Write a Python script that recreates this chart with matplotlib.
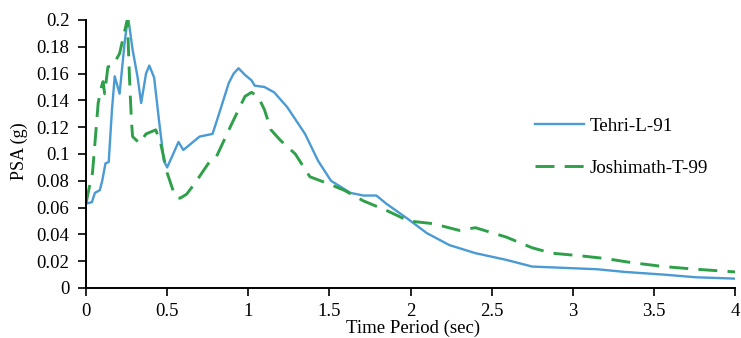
import matplotlib.pyplot as plt
import numpy as np

# Tehri-L-91
tehri_t = [0, 0.036, 0.055, 0.085, 0.10, 0.12, 0.14, 0.16, 0.177, 0.207, 0.238, 0.256, 0.262,
           0.287, 0.317, 0.34, 0.37, 0.39, 0.42, 0.45, 0.48, 0.50, 0.53, 0.57, 0.60, 0.70,
           0.78, 0.82, 0.88, 0.91, 0.94, 0.98, 1.02, 1.04, 1.10, 1.16, 1.24, 1.35, 1.43,
           1.51, 1.63, 1.71, 1.79, 1.85, 1.99, 2.10, 2.24, 2.40, 2.59, 2.75, 2.95,
           3.15, 3.32, 3.56, 3.76, 4.0]
tehri_psa = [0.063, 0.064, 0.071, 0.073, 0.080, 0.093, 0.094, 0.133, 0.158, 0.145, 0.183, 0.2, 0.2,
             0.178, 0.158, 0.138, 0.160, 0.166, 0.157, 0.125, 0.095, 0.090, 0.098, 0.109, 0.103, 0.113,
             0.115, 0.130, 0.153, 0.160, 0.164, 0.159, 0.155, 0.151, 0.150, 0.146, 0.135, 0.115, 0.095,
             0.080, 0.071, 0.069, 0.069, 0.063, 0.051, 0.041, 0.032, 0.026, 0.021, 0.016, 0.015,
             0.014, 0.012, 0.010, 0.008, 0.007]

# Joshimath-T-99
joshi_t = [0, 0.02, 0.04, 0.055, 0.075, 0.095, 0.105, 0.115, 0.135, 0.166, 0.207, 0.25, 0.255,
           0.268, 0.28, 0.287, 0.33, 0.37, 0.43, 0.46, 0.50, 0.55, 0.58, 0.62, 0.67,
           0.76, 0.80, 0.90, 0.98, 1.02, 1.06, 1.10, 1.14, 1.20, 1.29, 1.38, 1.49,
           1.59, 1.71, 1.85, 1.99, 2.14, 2.30, 2.40, 2.59, 2.75, 2.87, 3.05, 3.20,
           3.36, 3.56, 3.76, 4.0]
joshi_psa = [0.063, 0.075, 0.086, 0.108, 0.138, 0.150, 0.154, 0.145, 0.165, 0.166, 0.175, 0.198, 0.2,
             0.157, 0.125, 0.113, 0.108, 0.115, 0.118, 0.108, 0.086, 0.068, 0.067, 0.070, 0.078,
             0.094, 0.097, 0.123, 0.143, 0.146, 0.143, 0.133, 0.118, 0.110, 0.100, 0.083, 0.078,
             0.073, 0.065, 0.058, 0.050, 0.048, 0.043, 0.045, 0.038, 0.030, 0.026, 0.024, 0.022,
             0.019, 0.016, 0.014, 0.012]

x_ticks = [0, 0.5, 1, 1.5, 2, 2.5, 3, 3.5, 4]
y_ticks = [0, 0.02, 0.04, 0.06, 0.08, 0.1, 0.12, 0.14, 0.16, 0.18, 0.2]

plt.rcParams['font.family'] = ['Liberation Serif', 'DejaVu Serif']

fig = plt.figure(figsize=(7.41, 3.38), dpi=100)
ax = fig.add_axes([86 / 741, 50 / 338, 649 / 741, 268 / 338])

ax.plot(tehri_t, tehri_psa, color='#4a9ad4', lw=1.7, label='Tehri-L-91')
ax.plot(joshi_t, joshi_psa, color='#2fa04a', lw=2.1, dashes=(6.5, 3.5), label='Joshimath-T-99')

ax.set_xlim(0, 4)
ax.set_ylim(0, 0.2)
ax.set_xticks(x_ticks)
ax.set_yticks(y_ticks)
ax.set_xticklabels(['%g' % v for v in x_ticks])
ax.set_yticklabels(['%g' % v for v in y_ticks])
ax.tick_params(direction='out', length=6, width=1.2, labelsize=13.5, colors='black')
ax.tick_params(axis='y', pad=6)
ax.tick_params(axis='x', pad=5)
ax.spines['top'].set_visible(False)
ax.spines['right'].set_visible(False)
ax.spines['left'].set_linewidth(1.4)
ax.spines['bottom'].set_linewidth(1.4)

ax.set_xlabel('Time Period (sec)', fontsize=13.5)
ax.set_ylabel('PSA (g)', fontsize=13)
ax.xaxis.set_label_coords(0.504, -0.118)
ax.yaxis.set_label_coords(-0.09, 0.51)

ax.legend(loc='upper left', bbox_to_anchor=(0.665, 0.70), frameon=False, fontsize=13.7,
          handlelength=2.6, labelspacing=1.3, handletextpad=0.3)

fig.savefig('out.png', dpi=100)
